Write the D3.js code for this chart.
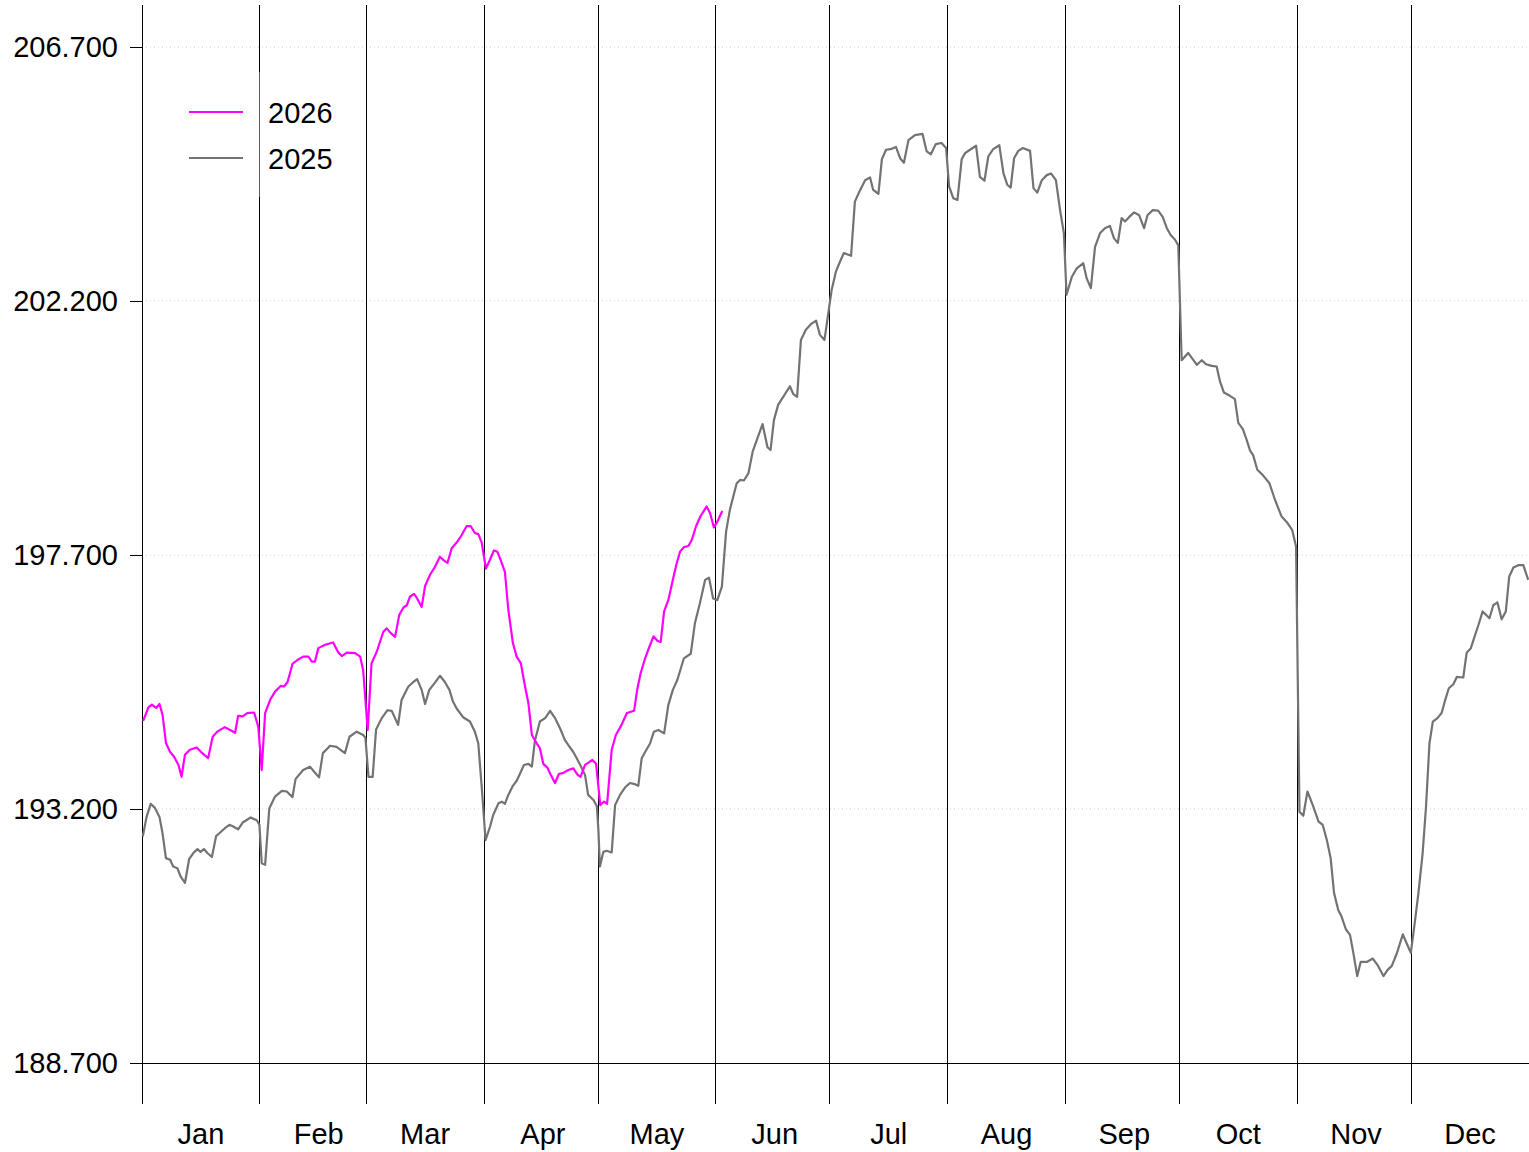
<!DOCTYPE html>
<html>
<head>
<meta charset="utf-8">
<script src="https://cdn.jsdelivr.net/npm/d3@7"></script>
<style>
  body { margin: 0; background: #fff; }
  svg text { font-family: "Liberation Sans", Arial, sans-serif; }
</style>
</head>
<body>
<svg id="chart" width="1529" height="1152"></svg>
<script>
// month layout
const monthLabels = ["Jan", "Feb", "Mar", "Apr", "May", "Jun", "Jul", "Aug", "Sep", "Oct", "Nov", "Dec"];
const monthStarts = [0, 31, 59, 90, 120, 151, 181, 212, 243, 273, 304, 334, 365];
const yTicks = [188.7, 193.2, 197.7, 202.2, 206.7];

// 2025 series: day of year and value
const days2025 = [0.2, 1.2, 2.3, 3.4, 4.6, 5.4, 6.3, 7.4, 8.2, 9.3, 10.2, 11.3, 12.4, 13.5, 14.6, 15.4, 16.3, 17.2, 18.4, 19.5,
  20.5, 21.8, 23.0, 24.0, 25.3, 26.5, 28.6, 30.2, 30.9, 31.5, 32.4, 33.5, 35.0, 36.8, 38.1, 39.6, 40.4, 42.4, 44.2, 45.3,
  46.6, 47.6, 49.5, 51.2, 53.4, 54.6, 56.5, 58.2, 58.8, 59.6, 60.7, 61.6, 63.1, 64.6, 65.7, 67.4, 68.3, 70.1, 71.4, 72.4,
  73.6, 74.5, 75.6, 77.1, 78.4, 79.7, 80.9, 81.8, 82.8, 84.6, 86.3, 87.6, 88.5, 89.4, 90.4, 91.6, 92.4, 93.8, 94.7, 95.5,
  96.4, 97.6, 98.6, 99.5, 100.5, 101.7, 102.6, 103.4, 104.7, 106.1, 107.4, 108.7, 110.0, 111.3, 112.2, 113.5, 114.4, 115.7, 116.6, 117.4,
  118.8, 119.7, 120.1, 120.5, 121.4, 122.3, 123.6, 124.5, 125.8, 127.1, 128.4, 129.7, 130.6, 131.5, 132.4, 133.7, 134.7, 135.9, 137.4, 138.5,
  139.7, 140.9, 142.6, 144.4, 145.5, 146.8, 148.2, 149.2, 150.3, 151.4, 152.6, 153.7, 154.7, 156.5, 157.4, 158.4, 159.6, 160.7, 161.8, 163.3,
  164.6, 165.4, 166.3, 167.4, 169.2, 170.5, 171.4, 172.4, 173.4, 174.7, 176.2, 177.4, 178.4, 179.6, 180.6, 181.5, 182.6, 183.7, 184.7, 186.6,
  187.6, 188.8, 190.3, 191.6, 192.4, 193.8, 194.7, 195.8, 197.0, 198.4, 199.5, 200.5, 201.7, 203.4, 205.4, 206.5, 207.6, 208.9, 210.4, 211.6,
  212.4, 213.5, 214.6, 215.7, 216.6, 217.9, 219.5, 220.5, 221.7, 222.7, 224.0, 225.6, 226.7, 227.7, 228.6, 229.5, 230.6, 231.8, 233.7, 234.6,
  235.6, 236.8, 238.1, 239.2, 240.5, 241.6, 242.6, 243.3, 244.7, 246.0, 247.7, 248.6, 249.7, 250.8, 252.1, 253.4, 254.7, 255.8, 256.8, 257.8,
  258.7, 259.8, 261.1, 262.4, 263.7, 264.6, 266.0, 267.4, 268.6, 269.7, 270.7, 271.8, 272.7, 273.6, 275.3, 277.6, 278.9, 280.0, 281.5, 282.8,
  283.7, 284.7, 286.3, 287.6, 288.5, 289.7, 290.7, 291.6, 292.4, 293.5, 294.9, 296.7, 298.2, 299.9, 301.4, 302.7, 303.7, 304.6, 305.6, 306.7,
  308.1, 309.6, 310.7, 311.8, 312.8, 313.7, 314.8, 315.7, 316.8, 317.9, 318.8, 319.8, 320.7, 322.3, 323.9, 325.1, 326.7, 327.8, 328.9, 330.2,
  331.8, 333.0, 333.9, 334.7, 335.9, 337.0, 337.9, 338.8, 339.7, 340.9, 342.0, 342.9, 343.9, 345.1, 346.0, 347.7, 348.6, 349.7, 350.8, 351.7,
  352.8, 354.6, 355.6, 356.7, 357.8, 358.9, 359.8, 360.9, 362.2, 363.5, 364.8];
const vals2025 = [192.71, 193.06, 193.29, 193.22, 193.06, 192.77, 192.33, 192.30, 192.18, 192.15, 192.00, 191.89, 192.31, 192.42, 192.49, 192.44, 192.49, 192.42, 192.35, 192.72,
  192.78, 192.86, 192.92, 192.89, 192.84, 192.96, 193.05, 193.00, 192.92, 192.24, 192.21, 193.21, 193.42, 193.52, 193.51, 193.41, 193.73, 193.89, 193.95, 193.86,
  193.76, 194.19, 194.32, 194.30, 194.19, 194.48, 194.57, 194.51, 194.46, 193.77, 193.77, 194.61, 194.81, 194.95, 194.94, 194.69, 195.13, 195.37, 195.45, 195.50,
  195.31, 195.06, 195.31, 195.44, 195.56, 195.45, 195.31, 195.11, 194.98, 194.82, 194.75, 194.57, 194.36, 193.59, 192.65, 192.89, 193.09, 193.30, 193.33, 193.29,
  193.45, 193.61, 193.70, 193.83, 193.98, 194.00, 193.95, 194.41, 194.75, 194.81, 194.94, 194.81, 194.63, 194.42, 194.33, 194.21, 194.10, 193.93, 193.80, 193.45,
  193.36, 193.25, 192.83, 192.18, 192.44, 192.46, 192.43, 193.27, 193.45, 193.58, 193.66, 193.64, 193.61, 194.10, 194.21, 194.36, 194.57, 194.60, 194.54, 195.04,
  195.31, 195.49, 195.87, 195.95, 196.49, 196.84, 197.26, 197.30, 196.93, 196.90, 197.14, 198.11, 198.50, 198.97, 199.03, 199.02, 199.15, 199.53, 199.74, 200.02,
  199.61, 199.56, 200.09, 200.36, 200.55, 200.69, 200.55, 200.50, 201.51, 201.69, 201.80, 201.85, 201.60, 201.51, 201.98, 202.40, 202.72, 202.90, 203.05, 203.00,
  203.96, 204.14, 204.34, 204.39, 204.17, 204.10, 204.71, 204.88, 204.89, 204.93, 204.73, 204.65, 205.05, 205.14, 205.16, 204.85, 204.80, 204.98, 205.00, 204.91,
  204.23, 204.02, 203.99, 204.71, 204.82, 204.88, 204.95, 204.40, 204.33, 204.76, 204.89, 204.96, 204.46, 204.26, 204.21, 204.73, 204.86, 204.91, 204.86, 204.20,
  204.12, 204.34, 204.43, 204.46, 204.34, 203.81, 203.40, 202.31, 202.63, 202.78, 202.87, 202.60, 202.43, 203.16, 203.40, 203.49, 203.53, 203.31, 203.23, 203.67,
  203.61, 203.69, 203.77, 203.72, 203.49, 203.72, 203.81, 203.80, 203.69, 203.49, 203.37, 203.29, 203.19, 201.15, 201.28, 201.07, 201.15, 201.08, 201.05, 201.04,
  200.77, 200.58, 200.52, 200.46, 200.04, 199.93, 199.74, 199.55, 199.47, 199.21, 199.12, 198.97, 198.67, 198.38, 198.27, 198.14, 197.85, 193.15, 193.08, 193.51,
  193.27, 192.98, 192.92, 192.65, 192.33, 191.71, 191.41, 191.29, 191.07, 190.97, 190.64, 190.24, 190.49, 190.49, 190.55, 190.44, 190.24, 190.35, 190.42, 190.64,
  190.98, 190.79, 190.65, 191.06, 191.71, 192.41, 193.24, 194.36, 194.75, 194.81, 194.90, 195.12, 195.34, 195.41, 195.54, 195.53, 195.97, 196.05, 196.28, 196.46,
  196.70, 196.58, 196.81, 196.86, 196.56, 196.70, 197.32, 197.48, 197.52, 197.52, 197.26];

// 2026 series
const days2026 = [0.3, 1.7, 2.6, 3.7, 4.6, 5.4, 6.3, 7.4, 8.4, 9.6, 10.4, 11.3, 12.6, 14.4, 15.7, 17.4, 18.6, 19.8, 21.8, 23.2,
  24.5, 25.3, 26.5, 27.7, 29.5, 30.6, 31.5, 32.4, 33.7, 35.0, 36.5, 37.4, 38.3, 39.6, 40.9, 42.4, 43.8, 44.7, 45.5, 46.4,
  48.2, 50.3, 51.7, 52.6, 53.9, 56.1, 57.4, 58.2, 59.4, 60.4, 61.8, 63.5, 64.4, 65.4, 66.6, 67.7, 68.8, 69.7, 70.5, 71.6,
  72.4, 73.6, 74.5, 75.8, 77.1, 78.4, 79.5, 80.4, 81.5, 82.8, 84.1, 85.4, 86.5, 87.6, 88.5, 89.4, 90.5, 91.6, 92.6, 93.5,
  94.4, 95.5, 96.4, 97.6, 98.6, 99.7, 100.8, 101.7, 102.6, 103.9, 104.7, 105.6, 106.7, 107.6, 108.7, 109.7, 110.9, 112.2, 113.5, 114.6,
  115.4, 116.6, 118.5, 119.5, 120.6, 121.6, 122.4, 123.6, 124.7, 126.2, 127.6, 129.5, 130.3, 131.2, 132.4, 133.5, 134.6, 135.6, 136.5, 137.4,
  138.5, 139.7, 140.7, 141.6, 142.6, 143.8, 144.7, 145.8, 147.0, 148.6, 149.5, 150.5, 151.4, 152.7];
const vals2026 = [194.76, 195.00, 195.05, 194.99, 195.06, 194.87, 194.37, 194.21, 194.13, 193.98, 193.77, 194.16, 194.25, 194.29, 194.20, 194.10, 194.48, 194.57, 194.65, 194.60,
  194.55, 194.85, 194.84, 194.90, 194.91, 194.66, 193.89, 194.90, 195.13, 195.28, 195.38, 195.37, 195.45, 195.77, 195.84, 195.90, 195.90, 195.81, 195.81, 196.05,
  196.11, 196.15, 195.97, 195.91, 195.97, 195.96, 195.90, 195.66, 194.60, 195.78, 195.99, 196.34, 196.40, 196.32, 196.25, 196.64, 196.77, 196.81, 196.96, 197.01,
  196.93, 196.78, 197.15, 197.35, 197.49, 197.67, 197.60, 197.56, 197.82, 197.92, 198.05, 198.21, 198.21, 198.09, 198.07, 197.92, 197.46, 197.62, 197.78, 197.76,
  197.61, 197.40, 196.73, 196.14, 195.90, 195.78, 195.37, 195.07, 194.51, 194.36, 194.28, 194.00, 193.93, 193.80, 193.66, 193.82, 193.84, 193.89, 193.92, 193.81,
  193.77, 193.98, 194.07, 194.00, 193.27, 193.33, 193.29, 194.25, 194.51, 194.69, 194.90, 194.94, 195.31, 195.60, 195.87, 196.07, 196.26, 196.18, 196.16, 196.70,
  196.90, 197.26, 197.55, 197.76, 197.84, 197.86, 197.97, 198.21, 198.39, 198.56, 198.44, 198.19, 198.29, 198.48];

const series = [
  { name: "2026", days: days2026, vals: vals2026, color: "#ff00ff" },
  { name: "2025", days: days2025, vals: vals2025, color: "#737373" }
];

const svg = d3.select("#chart");

const x = d3.scaleLinear().domain([0, 365]).range([142, 1529]);
const y = d3.scaleLinear().domain([188.7, 206.7]).range([1063, 47]);

// dotted grid lines
svg.append("g")
  .selectAll("line")
  .data(yTicks.slice(1))
  .join("line")
  .attr("x1", x(0)).attr("x2", x(365))
  .attr("y1", d => y(d)).attr("y2", d => y(d))
  .attr("stroke", "#d0d0d0")
  .attr("stroke-width", 1)
  .attr("stroke-dasharray", "1,3");

// y axis ticks + labels
const yAxis = svg.append("g").attr("transform", `translate(${x(0)},0)`)
  .call(d3.axisLeft(y).tickValues(yTicks).tickFormat(d3.format(".3f")).tickSize(12).tickPadding(12));
yAxis.select(".domain").remove();
yAxis.selectAll("line").attr("stroke", "#000").attr("shape-rendering", "crispEdges");
yAxis.selectAll("text").attr("font-size", 29).attr("fill", "#000")
  .style("font-family", "'Liberation Sans', Arial, sans-serif");

// bottom horizontal line
svg.append("line")
  .attr("x1", x(0) - 11).attr("x2", x(365))
  .attr("y1", y(188.7)).attr("y2", y(188.7))
  .attr("stroke", "#000").attr("stroke-width", 1)
  .attr("shape-rendering", "crispEdges");

// month separators
svg.append("g")
  .selectAll("line")
  .data(monthStarts.slice(0, 12))
  .join("line")
  .attr("x1", d => x(d)).attr("x2", d => x(d))
  .attr("y1", 5).attr("y2", 1104)
  .attr("stroke", "#000").attr("stroke-width", 1)
  .attr("shape-rendering", "crispEdges");

// month labels, placed mid-month
svg.append("g")
  .selectAll("text")
  .data(monthLabels)
  .join("text")
  .attr("x", (d, i) => x(monthStarts[i] + 15.5))
  .attr("y", 1144)
  .attr("text-anchor", "middle")
  .attr("font-size", 29)
  .text(d => d);

// lines
const line = d3.line()
  .x(d => x(d[0]))
  .y(d => y(d[1]));

svg.append("g")
  .selectAll("path")
  .data(series.slice().reverse())
  .join("path")
  .attr("d", s => line(s.days.map((dd, i) => [dd, s.vals[i]])))
  .attr("fill", "none")
  .attr("stroke", s => s.color)
  .attr("stroke-width", 2.2)
  .attr("stroke-linejoin", "round");

// legend
const legend = svg.append("g");
legend.append("rect")
  .attr("x", 176).attr("y", 72).attr("width", 170).attr("height", 125)
  .attr("fill", "#fff").attr("fill-opacity", 0.35);
const legRows = legend.selectAll("g.row")
  .data(series)
  .join("g")
  .attr("class", "row")
  .attr("transform", (d, i) => `translate(0,${112 + i * 46})`);
legRows.append("line")
  .attr("x1", 189).attr("x2", 243)
  .attr("stroke", d => d.color).attr("stroke-width", 2.2);
legRows.append("text")
  .attr("x", 268).attr("y", 11)
  .attr("font-size", 29)
  .text(d => d.name);
</script>
</body>
</html>
